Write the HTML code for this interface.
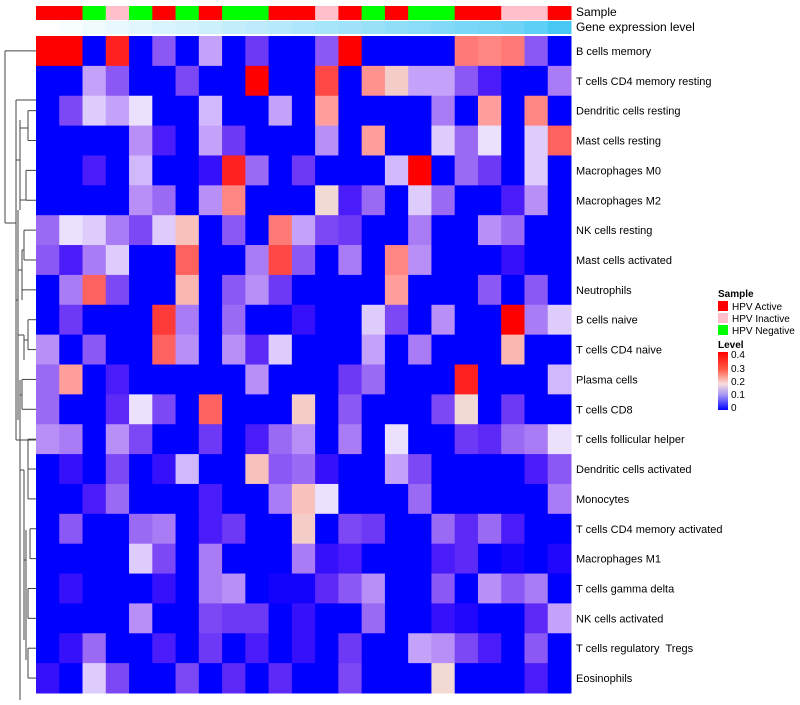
<!DOCTYPE html>
<html><head><meta charset="utf-8"><style>
body{margin:0;background:#fff;font-family:"Liberation Sans",sans-serif}
svg text{font-family:"Liberation Sans",sans-serif;white-space:pre}
</style></head><body>
<svg id="chart" width="800" height="700" xmlns="http://www.w3.org/2000/svg">
<g id="dendro" stroke="#444" fill="none" stroke-width="1"></g>
<g id="cells"></g>
<g id="annot"></g>
<g id="labels" font-size="11" fill="#000"></g>
<text x="576" y="16" font-size="12">Sample</text>
<text x="576" y="31" font-size="12">Gene expression level</text>
<g font-size="10">
<text x="718" y="297" font-weight="bold">Sample</text>
<rect x="718" y="301" width="10" height="10" fill="#ff0000"/>
<text x="732" y="310">HPV Active</text>
<rect x="718" y="313" width="10" height="10" fill="#ffc0cb"/>
<text x="732" y="322">HPV Inactive</text>
<rect x="718" y="325" width="10" height="10" fill="#00ff00"/>
<text x="732" y="334">HPV Negative</text>
<text x="718" y="348" font-weight="bold">Level</text>
<defs><linearGradient id="lg" x1="0" y1="0" x2="0" y2="1">
<stop offset="0" stop-color="#ff0000"/><stop offset="0.3" stop-color="#ff5a45"/><stop offset="0.55" stop-color="#f8dede"/><stop offset="0.75" stop-color="#a090f5"/><stop offset="1" stop-color="#0000ff"/></linearGradient></defs>
<rect x="718" y="352" width="10" height="58" fill="url(#lg)"/>
<text x="731" y="358">0.4</text>
<text x="731" y="372">0.3</text>
<text x="731" y="385">0.2</text>
<text x="731" y="398">0.1</text>
<text x="731" y="411">0</text>
</g>
</svg>
<script>
const rowNames=["B cells memory","T cells CD4 memory resting","Dendritic cells resting","Mast cells resting","Macrophages M0","Macrophages M2","NK cells resting","Mast cells activated","Neutrophils","B cells naive","T cells CD4 naive","Plasma cells","T cells CD8","T cells follicular helper","Dendritic cells activated","Monocytes","T cells CD4 memory activated","Macrophages M1","T cells gamma delta","NK cells activated","T cells regulatory  Tregs","Eosinophils"];
const sampleGroups=["A","A","N","I","N","A","N","A","N","N","A","A","I","A","N","A","N","N","A","A","I","I","A"];
const geneLevels=[0,0.04,0.08,0.12,0.16,0.2,0.24,0.28,0.32,0.36,0.4,0.44,0.48,0.52,0.56,0.6,0.64,0.68,0.72,0.76,0.8,0.88,1];
const r1=[0.35,0.35,0,0.3,0,0.07,0,0.11,0,0.05,0,0,0.07,0.35,0,0,0,0,0.23,0.22,0.23,0.07,0];
const r2=[0,0,0.11,0.07,0,0,0.06,0,0,0.35,0,0,0.27,0,0.21,0.16,0.11,0.11,0.07,0.03,0,0,0.09];
const r3=[0,0.06,0.13,0.11,0.14,0,0,0.12,0,0,0.11,0,0.2,0,0,0,0,0.09,0,0.2,0,0.22,0];
const r4=[0,0,0,0,0.1,0.03,0,0.11,0.05,0,0,0,0.1,0,0.2,0,0,0.13,0.08,0.14,0,0.13,0.25];
const r5=[0,0,0.03,0,0.12,0,0,0.02,0.3,0.08,0,0.05,0,0,0,0.12,0.35,0,0.08,0.05,0,0.13,0];
const r6=[0,0,0,0,0.1,0.08,0,0.1,0.22,0,0,0,0.15,0.03,0.08,0,0.13,0.08,0,0,0.03,0.1,0];
const r7=[0.08,0.14,0.13,0.09,0.06,0.13,0.17,0,0.07,0,0.23,0.11,0.06,0.05,0,0,0.09,0,0,0.1,0.08,0,0];
const r8=[0.07,0.03,0.09,0.13,0,0,0.25,0,0,0.09,0.27,0.07,0,0.09,0,0.22,0.1,0,0,0,0.02,0,0];
const r9=[0,0.09,0.25,0.06,0,0,0.18,0,0.07,0.1,0.05,0,0,0,0,0.2,0,0,0,0.07,0,0.07,0];
const r10=[0,0.05,0,0,0,0.28,0.09,0,0.08,0,0,0.02,0,0,0.13,0.06,0,0.1,0,0,0.35,0.09,0.13];
const r11=[0.1,0,0.07,0,0,0.25,0.1,0,0.1,0.04,0.13,0,0,0,0.11,0,0.09,0,0,0,0.18,0,0];
const r12=[0.08,0.2,0,0.03,0,0,0,0,0,0.1,0,0,0,0.05,0.08,0,0,0,0.3,0,0,0,0.12];
const r13=[0.08,0,0,0.04,0.14,0.06,0,0.25,0,0,0,0.16,0,0.07,0,0,0,0.06,0.15,0,0.05,0,0];
const r14=[0.1,0.09,0,0.1,0.06,0,0,0.05,0,0.03,0.08,0.1,0,0.09,0,0.14,0,0,0.05,0.04,0.08,0.09,0.14];
const r15=[0,0.02,0,0.06,0,0.02,0.12,0,0,0.17,0.07,0.08,0.02,0,0,0.11,0.06,0,0,0,0,0.03,0.07];
const r16=[0,0,0.03,0.08,0,0,0,0.03,0,0,0.09,0.17,0.14,0,0,0,0.08,0,0,0,0,0,0.09];
const r17=[0,0.07,0,0,0.08,0.09,0,0.03,0.05,0,0,0.16,0,0.06,0.05,0,0,0.08,0.04,0.08,0.03,0,0];
const r18=[0,0,0,0,0.13,0.06,0,0.09,0,0,0,0.09,0.02,0.03,0,0,0,0.03,0.04,0,0.005,0,0.01];
const r19=[0,0.02,0,0,0,0.02,0,0.09,0.1,0,0.005,0.005,0.04,0.07,0.1,0,0,0.07,0,0.1,0.07,0.09,0];
const r20=[0,0,0,0,0.1,0,0,0.06,0.05,0.05,0,0.02,0,0,0.08,0,0,0.02,0.01,0,0,0.04,0.11];
const r21=[0,0.02,0.08,0,0,0.03,0,0.05,0,0.03,0,0.02,0,0.05,0,0,0.11,0.1,0.06,0.03,0,0.07,0];
const r22=[0.02,0,0.13,0.06,0,0,0.06,0,0.04,0,0.04,0,0,0.06,0,0,0,0.15,0,0,0,0.03,0];
const values=[r1,r2,r3,r4,r5,r6,r7,r8,r9,r10,r11,r12,r13,r14,r15,r16,r17,r18,r19,r20,r21,r22];

const X0=36,X1=571,Y0=36,Y1=693;
const nC=sampleGroups.length,nR=rowNames.length;
const cw=(X1-X0)/nC,rh=(Y1-Y0)/nR;
const xCol=i=>X0+i*cw, yRow=j=>Y0+j*rh;
function color(v){
  const mid=0.14;
  if(v<=mid){const t=v/mid;
    const r=Math.round(235*Math.pow(t,0.75)),g=Math.round(225*Math.pow(t,1.35)),b=Math.round(255-10*Math.sin(Math.PI*t));
    return `rgb(${r},${g},${b})`;}
  const t=Math.min(1,(v-mid)/0.18);
  const g=Math.round(228*Math.pow(1-t,0.9)), b=Math.round(222*Math.pow(1-t,0.9));
  return `rgb(${Math.round(240+15*Math.min(1,t*3))},${g},${b})`;
}
const NS="http://www.w3.org/2000/svg";
const cells=document.getElementById('cells');
values.forEach((row,j)=>row.forEach((v,i)=>{
  const r=document.createElementNS(NS,'rect');
  r.setAttribute('x',xCol(i));r.setAttribute('y',yRow(j));
  r.setAttribute('width',cw+0.5);r.setAttribute('height',rh+0.5);
  r.setAttribute('fill',color(v));
  
  
  cells.appendChild(r);
}));
const annot=document.getElementById('annot');
const gcol={A:'#ff0000',I:'#ffc0cb',N:'#00ff00'};
sampleGroups.forEach((g,i)=>{
  const r=document.createElementNS(NS,'rect');
  r.setAttribute('x',xCol(i));r.setAttribute('y',6);r.setAttribute('width',cw+0.5);r.setAttribute('height',14);
  r.setAttribute('fill',gcol[g]);
  
  
  annot.appendChild(r);
});
geneLevels.forEach((t,i)=>{
  const r=document.createElementNS(NS,'rect');
  r.setAttribute('x',xCol(i));r.setAttribute('y',21);r.setAttribute('width',cw+0.5);r.setAttribute('height',13);
  const R=Math.round(255-(255-72)*t),G=Math.round(255-(255-200)*t),B=Math.round(255-(255-245)*t);
  r.setAttribute('fill',`rgb(${R},${G},${B})`);
  
  
  annot.appendChild(r);
});
const labels=document.getElementById('labels');
rowNames.forEach((n,j)=>{
  const t=document.createElementNS(NS,'text');
  t.setAttribute('x',576);t.setAttribute('y',yRow(j)+rh/2+4);
  t.textContent=n;
  
  
  labels.appendChild(t);
});
const d=document.getElementById('dendro');
const yc=j=>yRow(j)+rh/2;
const segs=[
 [5,yc(0),36,yc(0)],[5,yc(0),5,223],[5,223,16,223],
 [16,100,16,440],[16,100,45,100],[16,440,45,440],
 [45,yc(1),36,yc(1)],[45,yc(1),45,120],
 [20,120,20,210],[20,160,16,160],
 [20,128,28,128],[28,yc(2),36,yc(2)],[28,yc(2),28,yc(3)],[28,yc(3),36,yc(3)],
 [20,200,26,200],[26,yc(4),36,yc(4)],[26,yc(4),26,yc(5)],[26,yc(5),36,yc(5)],
 [18,210,18,420],[18,300,16,300],
 [22,250,22,300],[22,270,18,270],[24,yc(6),36,yc(6)],[24,yc(6),24,yc(7)],[24,yc(7),36,yc(7)],[22,250,24,250],
 [22,yc(8),36,yc(8)],[22,300,22,yc(8)],
 [24,335,24,360],[24,335,18,335],[28,yc(9),36,yc(9)],[28,yc(9),28,yc(10)],[28,yc(10),36,yc(10)],[24,340,28,340],
 [20,380,20,700],[20,440,16,440],
 [22,yc(11),36,yc(11)],[22,yc(11),22,yc(12)],[22,yc(12),36,yc(12)],[22,395,20,395],
 [24,470,24,640],[24,470,20,470],
 [28,yc(13),36,yc(13)],[28,yc(13),28,yc(15)],[28,yc(14),36,yc(14)],[28,yc(15),36,yc(15)],
 [26,530,26,660],[26,560,24,560],
 [30,yc(16),36,yc(16)],[30,yc(16),30,yc(17)],[30,yc(17),36,yc(17)],
 [28,yc(18),36,yc(18)],[28,yc(18),28,yc(19)],[28,yc(19),36,yc(19)],
 [28,yc(20),36,yc(20)],[28,yc(20),28,yc(21)],[28,yc(21),36,yc(21)]
];
segs.forEach(s=>{
  const l=document.createElementNS(NS,'line');
  l.setAttribute('x1',s[0]);l.setAttribute('y1',s[1]);l.setAttribute('x2',s[2]);l.setAttribute('y2',s[3]);
  
  
  d.appendChild(l);
});
</script>
</body></html>
